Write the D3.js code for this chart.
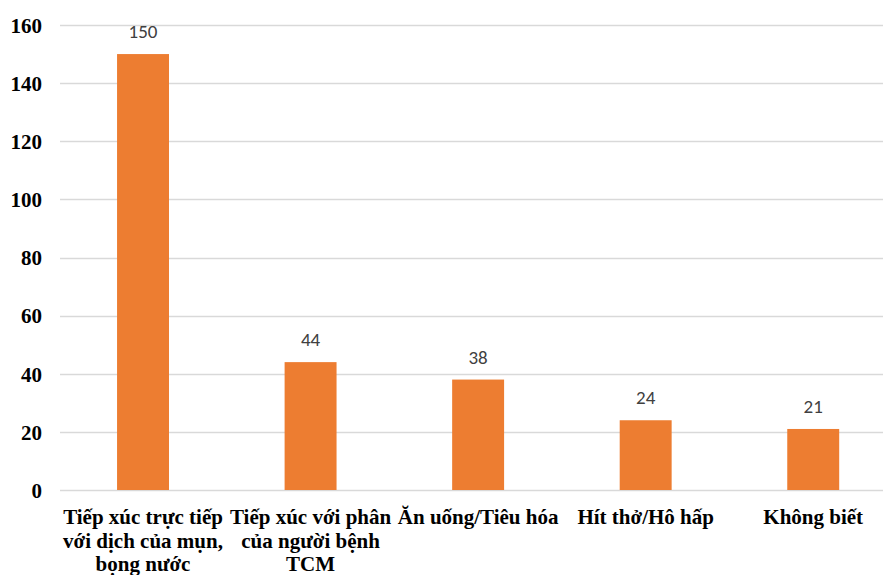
<!DOCTYPE html>
<html>
<head>
<meta charset="utf-8">
<script src="https://cdn.jsdelivr.net/npm/d3@7"></script>
</head>
<body style="margin:0">
<svg id="chart" width="883" height="575" style="display:block"></svg>
<script>
// Transmission routes and number of respondents choosing each
const categories = [
  ["Tiếp xúc trực tiếp", "với dịch của mụn,", "bọng nước"],
  ["Tiếp xúc với phân", "của người bệnh", "TCM"],
  ["Ăn uống/Tiêu hóa"],
  ["Hít thở/Hô hấp"],
  ["Không biết"]
];
const values = [150, 44, 38, 24, 21];
const yTicks = [0, 20, 40, 60, 80, 100, 120, 140, 160];

const SERIF = "Liberation Serif";
const SANS = "Carlito";

const svg = d3.select("#chart");
const margin = { left: 60, top: 25, bottom: 85 };
const height = 575;
const plotRight = 897;

const x = d3.scaleBand()
  .domain(d3.range(categories.length))
  .range([59.25, plotRight])
  .paddingInner(0.69)
  .paddingOuter(0.345);

const y = d3.scaleLinear()
  .domain([0, 160])
  .range([height - margin.bottom, margin.top]);

// Horizontal gridlines
svg.selectAll("line.grid")
  .data(yTicks)
  .join("line")
  .attr("class", "grid")
  .attr("x1", margin.left)
  .attr("x2", 883)
  .attr("y1", d => Math.round(y(d)) + 0.5)
  .attr("y2", d => Math.round(y(d)) + 0.5)
  .attr("stroke", "#d9d9d9")
  .attr("stroke-width", 1.3);

// Y axis labels, positioned by the axis generator
const gy = svg.append("g")
  .attr("transform", "translate(42,0)")
  .call(d3.axisLeft(y).tickValues(yTicks).tickSize(0).tickPadding(0))
  .attr("font-family", SERIF)
  .attr("font-size", 21)
  .attr("font-weight", "bold");
gy.select(".domain").remove();
gy.selectAll("text")
  .attr("fill", "#000")
  .attr("dy", "0.35em")
  .style("font-family", `"${SERIF}"`)
  .style("font-weight", "bold")
  .style("font-size", "21px");

// Bars
svg.selectAll("rect.bar")
  .data(values)
  .join("rect")
  .attr("class", "bar")
  .attr("x", (d, i) => x(i))
  .attr("width", x.bandwidth())
  .attr("y", d => y(d))
  .attr("height", d => y(0) - y(d))
  .attr("fill", "#ED7D31");

// Value labels
svg.selectAll("text.val")
  .data(values)
  .join("text")
  .attr("class", "val")
  .attr("x", (d, i) => x(i) + x.bandwidth() / 2)
  .attr("y", d => y(d) - 16)
  .attr("text-anchor", "middle")
  .attr("fill", "#404040")
  .style("font-family", `"${SANS}"`)
  .style("font-size", "19px")
  .text(d => d);

// Category labels, one text element per line
const catLines = categories.flatMap((lines, i) =>
  lines.map((t, j) => ({ t, i, j })));
svg.selectAll("text.cat")
  .data(catLines)
  .join("text")
  .attr("class", "cat")
  .attr("x", d => x(d.i) + x.bandwidth() / 2)
  .attr("y", d => 524 + d.j * 23.5)
  .attr("text-anchor", "middle")
  .attr("fill", "#000")
  .style("font-family", `"${SERIF}"`)
  .style("font-weight", "bold")
  .style("font-size", "21px")
  .text(d => d.t);
</script>
</body>
</html>
